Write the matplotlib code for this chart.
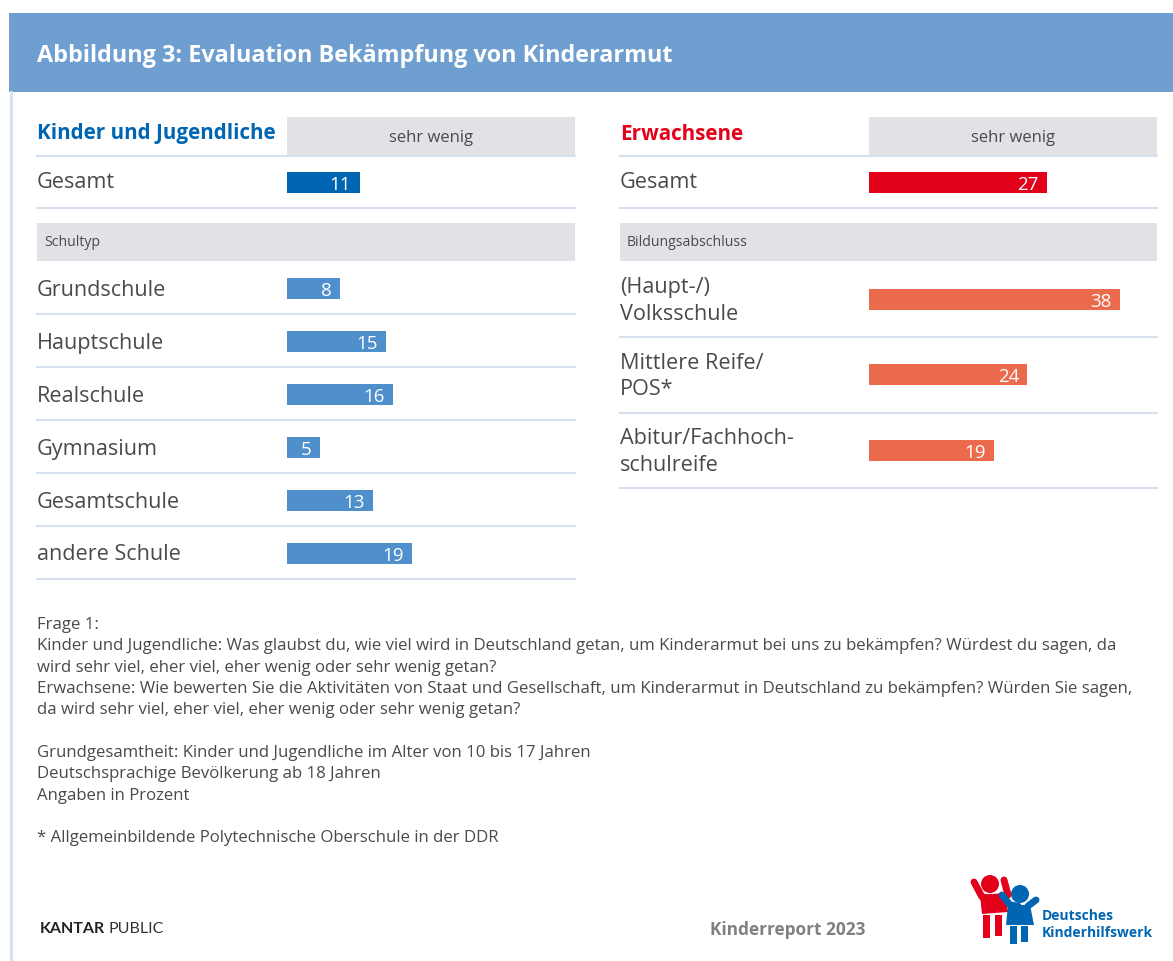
import matplotlib
matplotlib.use("Agg")
import matplotlib.pyplot as plt
from matplotlib.patches import Rectangle, Circle, Polygon

plt.rcParams['font.family'] = ['Open Sans', 'DejaVu Sans']

# data
kids_total = 11
kids_labels = ["Grundschule", "Hauptschule", "Realschule", "Gymnasium", "Gesamtschule", "andere Schule"]
kids_values = [8, 15, 16, 5, 13, 19]

adult_total = 27
adult_labels = ["(Haupt-/)\nVolksschule", "Mittlere Reife/\nPOS*", "Abitur/Fachhoch-\nschulreife"]
adult_values = [38, 24, 19]

W, H = 1173, 961
PX_PER_UNIT = 6.6

c_dark_blue = "#0066b3"
c_blue = "#4f8fcb"
c_red = "#e2001a"
c_orange = "#ec6a4c"
c_grey_box = "#e1e2e5"
c_line = "#d6e0ef"
c_text = "#4a4a4a"
c_head = "#6f9fd0"

fig = plt.figure(figsize=(W / 100, H / 100), dpi=100)
bg = fig.add_axes([0, 0, 1, 1])
bg.set_xlim(0, W)
bg.set_ylim(H, 0)
bg.axis('off')

# title band
bg.add_patch(Rectangle((9, 13), W - 9, 79, color=c_head, lw=0))
bg.text(37, 56, "Abbildung 3: Evaluation Bekämpfung von Kinderarmut", color="white",
        fontsize=16.8, fontweight='bold', va='center', ha='left')
bg.plot([11, 11], [92, H], color=c_line, lw=2)


def hline(x0, x1, y):
    bg.plot([x0, x1], [y, y], color=c_line, lw=1.5)


def panel(x_lab, x_bar, x_end, title, title_color, total, total_color,
          group, labels, values, row_color, row_y, line_y):
    bg.text(x_lab, 134, title, color=title_color, fontsize=14.9, fontweight='bold', va='center')
    bg.add_patch(Rectangle((x_bar, 117), x_end - x_bar, 38, color=c_grey_box, lw=0))
    bg.text((x_bar + x_end) / 2, 138, "sehr wenig", color=c_text, fontsize=12, ha='center', va='center')
    hline(x_lab, x_end, 156)
    bg.text(x_lab, 182, "Gesamt", color=c_text, fontsize=15.6, va='center')
    hline(x_lab, x_end, 208)
    bg.add_patch(Rectangle((x_lab, 223), x_end - x_lab, 38, color=c_grey_box, lw=0))
    bg.text(x_lab + 7, 243, group, color=c_text, fontsize=10.1, va='center')
    for lab, y, ly in zip(labels, row_y, line_y):
        bg.text(x_lab, y + 2, lab, color=c_text, fontsize=15.6, va='center', linespacing=1.35)
        hline(x_lab, x_end, ly)

    ax = fig.add_axes([x_bar / W, 0, (x_end - x_bar) / W, 1])
    ax.set_xlim(0, (x_end - x_bar) / PX_PER_UNIT)
    ax.set_ylim(H, 0)
    ax.axis('off')
    ax.patch.set_alpha(0)
    ys = [182] + list(row_y)
    vals = [total] + list(values)
    ax.barh(ys, vals, height=21, color=[total_color] + [row_color] * len(values))
    for v, y in zip(vals, ys):
        ax.annotate(str(v), (v, y), xytext=(-6, -2), textcoords='offset points',
                    color='white', fontsize=13.5, ha='right', va='center')
    return ax


panel(37, 287, 575, "Kinder und Jugendliche", c_dark_blue, kids_total, c_dark_blue,
      "Schultyp", kids_labels, kids_values, c_blue,
      [288 + 53 * i for i in range(len(kids_values))],
      [314 + 53 * i for i in range(len(kids_values))])

panel(620, 869, 1157, "Erwachsene", c_red, adult_total, c_red,
      "Bildungsabschluss", adult_labels, adult_values, c_orange,
      [299 + 75.5 * i for i in range(len(adult_values))],
      [337 + 75.5 * i for i in range(len(adult_values))])

# notes
notes = [
    "Frage 1:",
    "Kinder und Jugendliche: Was glaubst du, wie viel wird in Deutschland getan, um Kinderarmut bei uns zu bekämpfen? Würdest du sagen, da",
    "wird sehr viel, eher viel, eher wenig oder sehr wenig getan?",
    "Erwachsene: Wie bewerten Sie die Aktivitäten von Staat und Gesellschaft, um Kinderarmut in Deutschland zu bekämpfen? Würden Sie sagen,",
    "da wird sehr viel, eher viel, eher wenig oder sehr wenig getan?",
    "",
    "Grundgesamtheit: Kinder und Jugendliche im Alter von 10 bis 17 Jahren",
    "Deutschsprachige Bevölkerung ab 18 Jahren",
    "Angaben in Prozent",
    "",
    "* Allgemeinbildende Polytechnische Oberschule in der DDR",
]
for i, line in enumerate(notes):
    bg.text(37, 625 + 21.35 * i, line, color=c_text, fontsize=12.1, va='center')

# footer
bg.text(40, 929, "KANTAR", color="#222222", fontsize=11.5, fontweight='bold', va='center',
        family=['Lato', 'DejaVu Sans'])
bg.text(108, 929, "PUBLIC", color="#333333", fontsize=11.5, va='center',
        family=['Lato', 'DejaVu Sans'])
bg.text(710, 930, "Kinderreport 2023", color="#808080", fontsize=12.4, fontweight='bold', va='center')

# logo (simple figures)
bg.add_patch(Circle((990, 884), 9, color=c_red, lw=0))
bg.plot([974, 982, 990], [882, 897, 898], color=c_red, lw=5, solid_capstyle='round')
bg.plot([1004, 1008], [880, 895], color=c_red, lw=5, solid_capstyle='round')
bg.add_patch(Polygon([[980, 895], [1005, 893], [1008, 912], [982, 914]], color=c_red, lw=0))
bg.add_patch(Rectangle((983, 915), 7, 23, color=c_red, lw=0))
bg.add_patch(Rectangle((995, 915), 7, 21, color=c_red, lw=0))
bg.add_patch(Circle((1020, 894), 9, color=c_dark_blue, lw=0))
bg.plot([1002, 1010, 1018], [895, 905, 906], color=c_dark_blue, lw=5, solid_capstyle='round')
bg.plot([1028, 1036], [906, 900], color=c_dark_blue, lw=5, solid_capstyle='round')
bg.add_patch(Polygon([[1008, 905], [1030, 905], [1034, 925], [1006, 925]], color=c_dark_blue, lw=0))
bg.add_patch(Rectangle((1010, 926), 7, 18, color=c_dark_blue, lw=0))
bg.add_patch(Rectangle((1021, 926), 7, 16, color=c_dark_blue, lw=0))
bg.text(1042, 916, "Deutsches", color=c_dark_blue, fontsize=10, fontweight='bold', va='center')
bg.text(1042, 933, "Kinderhilfswerk", color=c_dark_blue, fontsize=10, fontweight='bold', va='center')

fig.savefig("out.png", dpi=100)
